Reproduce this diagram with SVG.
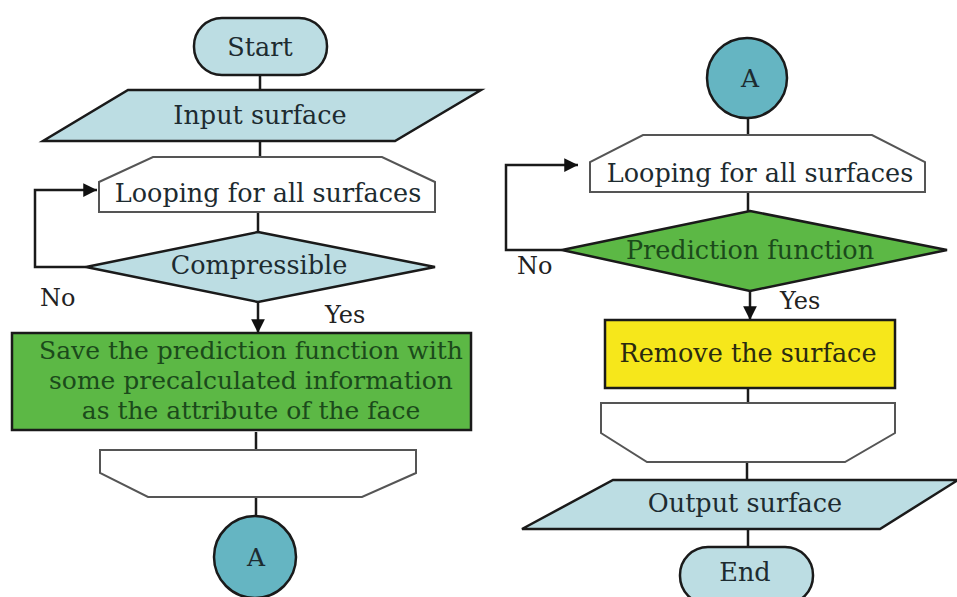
<svg xmlns="http://www.w3.org/2000/svg" width="957" height="597" viewBox="0 0 957 597">
<defs>
<marker id="arr" viewBox="0 0 10 10" refX="10" refY="5" markerWidth="6" markerHeight="5.5" orient="auto" markerUnits="strokeWidth">
<path d="M0,0 L10,5 L0,10 z" fill="#111"/>
</marker>
<style>
text{font-family:'DejaVu Serif',serif}
.t{font-size:25.5px;text-anchor:middle;fill:#1d2b30}
.gt{font-size:25px}
.lbl{font-size:24px;fill:#222}
.a{font-size:25px}
.g{fill:#1b4a1b}
.blue{fill:#bcdde3;stroke:#1a1a1a;stroke-width:2.5}
.teal{fill:#65b5c2;stroke:#1a1a1a;stroke-width:2.5}
.green{fill:#5cb845;stroke:#1a1a1a;stroke-width:2.5}
.yellow{fill:#f6e71b;stroke:#1a1a1a;stroke-width:2.5}
.loop{fill:#fff;stroke:#555;stroke-width:2}
.c{fill:none;stroke:#1a1a1a;stroke-width:2.5}
</style>
</defs>
<rect width="957" height="597" fill="#fff"/>

<g id="connectors">
<line class="c" x1="260" y1="75" x2="260" y2="90"/>
<line class="c" x1="260" y1="141" x2="260" y2="157"/>
<line class="c" x1="258" y1="212" x2="258" y2="232"/>
<line class="c" x1="258" y1="302" x2="258" y2="333" marker-end="url(#arr)"/>
<polyline class="c" points="86,267 35,267 35,190 97,190" marker-end="url(#arr)"/>
<line class="c" x1="256" y1="432" x2="256" y2="450" stroke="#555" stroke-width="2"/>
<line class="c" x1="256" y1="497" x2="256" y2="517"/>
<line class="c" x1="748" y1="118" x2="748" y2="135"/>
<line class="c" x1="748" y1="192" x2="748" y2="211"/>
<line class="c" x1="750" y1="291" x2="750" y2="320" marker-end="url(#arr)"/>
<polyline class="c" points="562,250 506,250 506,165 578,165" marker-end="url(#arr)"/>
<line class="c" x1="748" y1="388" x2="748" y2="403"/>
<line class="c" x1="747" y1="462" x2="747" y2="480"/>
<line class="c" x1="748" y1="529" x2="748" y2="547"/>
</g>

<g id="start">
<rect class="blue" x="194" y="18" width="133" height="57" rx="28" ry="28"/>
<text class="t" x="260" y="56">Start</text>
</g>
<g id="input-surface">
<polygon class="blue" points="128,90 481,90 395,141 43,141"/>
<text class="t" x="260" y="124">Input surface</text>
</g>
<g id="loop-start-left">
<polygon class="loop" points="153,157 382,157 435,182 435,212 99,212 99,182"/>
<text class="t" x="268" y="202">Looping for all surfaces</text>
</g>
<g id="compressible">
<polygon class="blue" points="258,232 435,267 258,302 86,267"/>
<text class="t" x="259" y="274">Compressible</text>
</g>
<text class="lbl" x="40" y="306">No</text>
<text class="lbl" x="325" y="323">Yes</text>
<g id="save-function">
<rect class="green" x="12" y="333" width="459" height="97"/>
<text class="t g gt" x="251" y="359">Save the prediction function with</text>
<text class="t g gt" x="251" y="389">some precalculated information</text>
<text class="t g gt" x="251" y="419">as the attribute of the face</text>
</g>
<g id="loop-end-left">
<polygon class="loop" points="100,450 416,450 416,473 362,497 148,497 100,473"/>
</g>
<g id="connector-a-left">
<circle class="teal" cx="255" cy="557" r="41"/>
<text class="t a" x="256" y="566">A</text>
</g>

<g id="connector-a-right">
<circle class="teal" cx="747" cy="78" r="40"/>
<text class="t a" x="750" y="87">A</text>
</g>
<g id="loop-start-right">
<polygon class="loop" points="643,135 872,135 925,162 925,192 590,192 590,162"/>
<text class="t" x="760" y="182">Looping for all surfaces</text>
</g>
<g id="prediction-function">
<polygon class="green" points="750,211 947,250 750,291 562,250"/>
<text class="t g" x="750" y="259">Prediction function</text>
</g>
<text class="lbl" x="517" y="274">No</text>
<text class="lbl" x="780" y="309">Yes</text>
<g id="remove-surface">
<rect class="yellow" x="605" y="320" width="290" height="68"/>
<text class="t" x="748" y="362" style="fill:#2a2a10">Remove the surface</text>
</g>
<g id="loop-end-right">
<polygon class="loop" points="601,403 895,403 895,433 845,462 647,462 601,433"/>
</g>
<g id="output-surface">
<polygon class="blue" points="613,480 958,480 880,529 522,529"/>
<text class="t" x="745" y="512">Output surface</text>
</g>
<g id="end">
<rect class="blue" x="680" y="547" width="133" height="57" rx="28" ry="28"/>
<text class="t" x="745" y="581">End</text>
</g>
</svg>
